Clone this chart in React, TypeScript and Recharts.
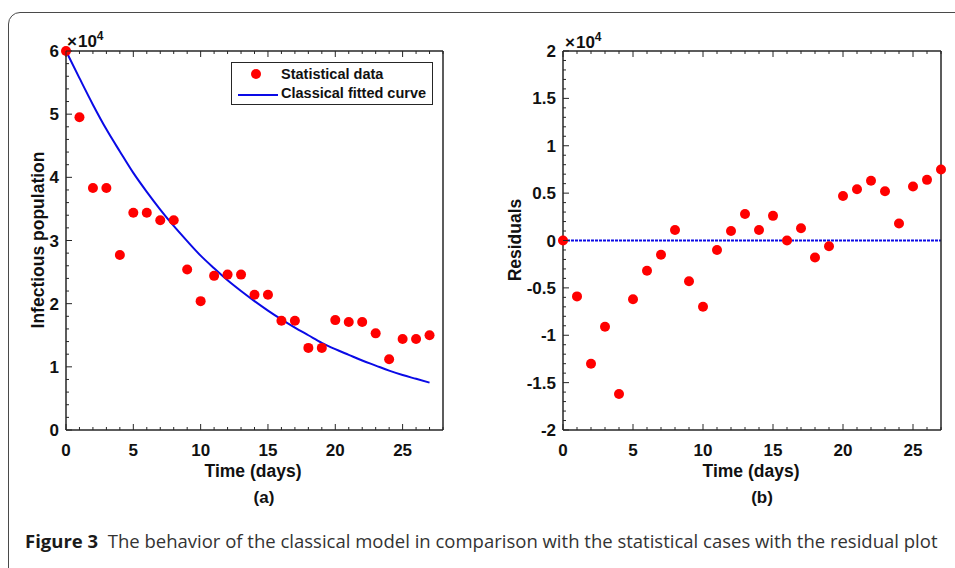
import React from 'react';
import { ComposedChart, Line, Scatter, XAxis, YAxis, ReferenceLine } from 'recharts';

// values in units of 10^4
const days = [0, 1, 2, 3, 4, 5, 6, 7, 8, 9, 10, 11, 12, 13, 14, 15, 16, 17, 18, 19, 20, 21, 22, 23, 24, 25, 26, 27];
const infected = [6.0, 4.95, 3.83, 3.83, 2.77, 3.44, 3.44, 3.32, 3.32, 2.54, 2.04, 2.44, 2.46, 2.46, 2.14, 2.14, 1.73, 1.73, 1.3, 1.3, 1.74, 1.71, 1.71, 1.53, 1.12, 1.44, 1.44, 1.5];
const fitted = [6.0, 5.57, 5.15, 4.76, 4.41, 4.07, 3.77, 3.49, 3.23, 2.99, 2.76, 2.56, 2.37, 2.2, 2.04, 1.89, 1.75, 1.62, 1.5, 1.38, 1.28, 1.19, 1.1, 1.02, 0.94, 0.87, 0.81, 0.75];
const residuals = [0, -0.59, -1.3, -0.91, -1.62, -0.62, -0.32, -0.15, 0.11, -0.43, -0.7, -0.1, 0.1, 0.28, 0.11, 0.26, 0, 0.13, -0.18, -0.06, 0.47, 0.54, 0.63, 0.52, 0.18, 0.57, 0.64, 0.75];

const dayMajors = [0, 5, 10, 15, 20, 25];
const dayLabels = ['0', '5', '10', '15', '20', '25'];
const popMajors = [0, 1, 2, 3, 4, 5, 6];
const popLabels = ['0', '1', '2', '3', '4', '5', '6'];
const resMajors = [-2, -1.5, -1, -0.5, 0, 0.5, 1, 1.5, 2];
const resLabels = ['-2', '-1.5', '-1', '-0.5', '0', '0.5', '1', '1.5', '2'];

const range = (a: number, b: number, step: number) => {
  const out: number[] = [];
  for (let v = a; v <= b + 1e-9; v += step) out.push(Math.round(v * 1000) / 1000);
  return out;
};

const leftX = range(0, 28, 1);
const leftY = range(0, 6, 0.2);
const rightX = range(0, 27, 1);
const rightY = range(-2, 2, 0.1);

const leftRows = days.map((d, i) => ({ day: d, observed: infected[i], fit: fitted[i] }));
const rightRows = days.map((d, i) => ({ day: d, res: residuals[i] }));

const INK = '#262626';
const BLUE = '#0a0ae6';
const FONT = '"Liberation Sans", Arial, sans-serif';

type Side = 'bottom' | 'top' | 'left' | 'right';

// MATLAB-style inward ticks, major ones longer and labelled
const makeTick = (side: Side, majors: number[], labels: string[] | null) => (p: any) => {
  const v = p.payload.value;
  const idx = majors.findIndex(m => Math.abs(m - v) < 1e-6);
  const len = idx >= 0 ? 6 : 3;
  const { x, y } = p;
  let line;
  if (side === 'bottom') line = <line x1={x} y1={y} x2={x} y2={y - len} stroke={INK} strokeWidth={1} />;
  else if (side === 'top') line = <line x1={x} y1={y} x2={x} y2={y + len} stroke={INK} strokeWidth={1} />;
  else if (side === 'left') line = <line x1={x} y1={y} x2={x + len} y2={y} stroke={INK} strokeWidth={1} />;
  else line = <line x1={x} y1={y} x2={x - len} y2={y} stroke={INK} strokeWidth={1} />;
  let label = null;
  if (labels && idx >= 0) {
    if (side === 'bottom')
      label = <text x={x} y={y + 26} textAnchor="middle" fontSize={17} fontWeight="bold" fill="#111" fontFamily={FONT}>{labels[idx]}</text>;
    else
      label = <text x={x - 7} y={y + 6} textAnchor="end" fontSize={17} fontWeight="bold" fill="#111" fontFamily={FONT}>{labels[idx]}</text>;
  }
  return <g>{line}{label}</g>;
};

const dot = (p: any) => <circle cx={p.cx} cy={p.cy} r={5} fill="#ff0000" />;

const axisLine = { stroke: INK, strokeWidth: 1.5 };

function Legend() {
  return (
    <div style={{ position: 'absolute', left: 231, top: 62, width: 200, height: 41, border: `1px solid ${INK}`, background: '#fff', fontFamily: FONT, fontWeight: 'bold', fontSize: 14.5, color: '#111' }}>
      <svg width={50} height={41} style={{ position: 'absolute', left: 0, top: 0 }}>
        <circle cx={24} cy={11} r={5} fill="#ff0000" />
        <line x1={6} y1={32} x2={46} y2={32} stroke={BLUE} strokeWidth={2} />
      </svg>
      <div style={{ position: 'absolute', left: 49, top: 3 }}>Statistical data</div>
      <div style={{ position: 'absolute', left: 49, top: 22 }}>Classical fitted curve</div>
    </div>
  );
}

export default function App() {
  return (
    <div style={{ position: 'absolute', left: 0, top: 0, width: 955, height: 568, overflow: 'hidden', background: '#fff' }}>
      <div style={{ position: 'absolute', left: 8, top: 12, width: 990, height: 620, border: '1.5px solid #4a4a4a', borderRadius: 12 }} />

      <div style={{ position: 'absolute', left: 0, top: 0 }}>
        <ComposedChart width={480} height={480} data={leftRows} margin={{ top: 50, left: 26, right: 36, bottom: 20 }}>
          <XAxis dataKey="day" type="number" domain={[0, 28]} ticks={leftX} interval={0} tickSize={0} tickMargin={0} tickLine={false} axisLine={axisLine} height={30} tick={makeTick('bottom', dayMajors, dayLabels)} />
          <XAxis xAxisId="top" orientation="top" dataKey="day" type="number" domain={[0, 28]} ticks={leftX} interval={0} tickSize={0} tickMargin={0} tickLine={false} axisLine={axisLine} height={1} tick={makeTick('top', dayMajors, null)} />
          <YAxis type="number" domain={[0, 6]} ticks={leftY} interval={0} tickSize={0} tickMargin={0} tickLine={false} axisLine={axisLine} width={40} tick={makeTick('left', popMajors, popLabels)} />
          <YAxis yAxisId="right" orientation="right" type="number" domain={[0, 6]} ticks={leftY} interval={0} tickSize={0} tickMargin={0} tickLine={false} axisLine={axisLine} width={1} tick={makeTick('right', popMajors, null)} />
          <Line dataKey="fit" type="monotone" stroke={BLUE} strokeWidth={2} dot={false} isAnimationActive={false} />
          <Scatter data={leftRows} dataKey="observed" fill="#ff0000" shape={dot} isAnimationActive={false} />
        </ComposedChart>
      </div>
      <Legend />

      <div style={{ position: 'absolute', left: 480, top: 0 }}>
        <ComposedChart width={475} height={480} data={rightRows} margin={{ top: 50, left: 43, right: 13, bottom: 20 }}>
          <XAxis dataKey="day" type="number" domain={[0, 27]} ticks={rightX} interval={0} tickSize={0} tickMargin={0} tickLine={false} axisLine={axisLine} height={30} tick={makeTick('bottom', dayMajors, dayLabels)} />
          <XAxis xAxisId="top" orientation="top" dataKey="day" type="number" domain={[0, 27]} ticks={rightX} interval={0} tickSize={0} tickMargin={0} tickLine={false} axisLine={axisLine} height={1} tick={makeTick('top', dayMajors, null)} />
          <YAxis type="number" domain={[-2, 2]} ticks={rightY} interval={0} tickSize={0} tickMargin={0} tickLine={false} axisLine={axisLine} width={40} tick={makeTick('left', resMajors, resLabels)} />
          <YAxis yAxisId="right" orientation="right" type="number" domain={[-2, 2]} ticks={rightY} interval={0} tickSize={0} tickMargin={0} tickLine={false} axisLine={axisLine} width={1} tick={makeTick('right', resMajors, null)} />
          <ReferenceLine y={0} stroke={BLUE} strokeWidth={2.2} strokeDasharray="3 1" />
          <Scatter data={rightRows} dataKey="res" fill="#ff0000" shape={dot} isAnimationActive={false} />
        </ComposedChart>
      </div>

      <svg width={955} height={568} style={{ position: 'absolute', left: 0, top: 0, pointerEvents: 'none' }} fontFamily={FONT} fontWeight="bold" fill="#111">
        <text x={67} y={47} fontSize={17}>×<tspan dx={1}>10</tspan><tspan dy={-7} fontSize={12}>4</tspan></text>
        <text x={565} y={48} fontSize={17}>×<tspan dx={1}>10</tspan><tspan dy={-7} fontSize={12}>4</tspan></text>
        <text transform="translate(43.5,240) rotate(-90)" textAnchor="middle" fontSize={17.5}>Infectious population</text>
        <text transform="translate(521,240) rotate(-90)" textAnchor="middle" fontSize={17.5}>Residuals</text>
        <text x={253} y={477} textAnchor="middle" fontSize={17.5}>Time (days)</text>
        <text x={751} y={477} textAnchor="middle" fontSize={17.5}>Time (days)</text>
        <text x={264} y={503} textAnchor="middle" fontSize={17}>(a)</text>
        <text x={762} y={503} textAnchor="middle" fontSize={17}>(b)</text>
      </svg>

      <div style={{ position: 'absolute', left: 25, top: 528, whiteSpace: 'nowrap', fontFamily: '"Open Sans", sans-serif', fontSize: 18.5, color: '#333' }}>
        <span style={{ fontWeight: 'bold', color: '#1a1a1a' }}>Figure 3</span>&nbsp;&nbsp;The behavior of the classical model in comparison with the statistical cases with the residual plot
      </div>
    </div>
  );
}
